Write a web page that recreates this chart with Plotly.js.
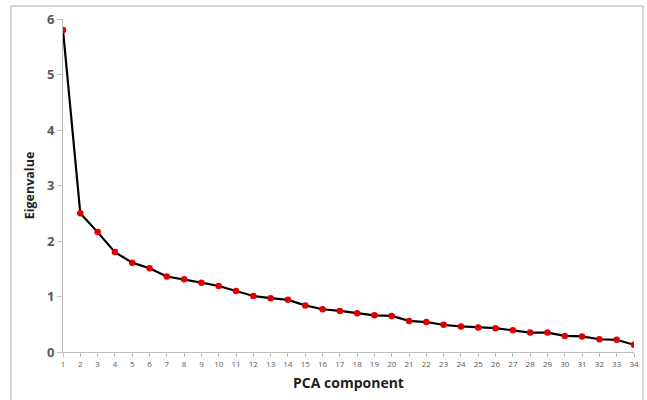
<!DOCTYPE html>
<html>
<head>
<meta charset="utf-8">
<script src="https://cdn.plot.ly/plotly-3.0.1.min.js"></script>
<style>
html,body{margin:0;padding:0;background:#fff;}
#chart{width:647px;height:400px;}
</style>
</head>
<body>
<div id="chart"></div>
<script>
const components = [1,2,3,4,5,6,7,8,9,10,11,12,13,14,15,16,17,18,19,20,21,22,23,24,25,26,27,28,29,30,31,32,33,34];
const eigenvalues = [5.80,2.50,2.16,1.80,1.61,1.51,1.36,1.31,1.25,1.19,1.10,1.01,0.97,0.94,0.84,0.77,0.74,0.70,0.66,0.65,0.56,0.54,0.49,0.46,0.44,0.43,0.39,0.35,0.35,0.29,0.28,0.23,0.22,0.13];
const yTicks = [0,1,2,3,4,5,6];

const trace = {
  x: components,
  y: eigenvalues,
  type: 'scatter',
  mode: 'lines+markers',
  line: {color: '#000000', width: 2.2},
  marker: {color: '#e00000', size: 6.5, line: {width: 0}},
  hoverinfo: 'x+y'
};

const layout = {
  width: 647,
  height: 400,
  margin: {l: 63, r: 13, t: 19, b: 48},
  paper_bgcolor: '#ffffff',
  plot_bgcolor: '#ffffff',
  showlegend: false,
  xaxis: {
    range: [1, 34],
    tickvals: components,
    ticktext: components.map(String),
    tickfont: {family: 'Open Sans, sans-serif', size: 8, color: '#595959'},
    showgrid: false,
    zeroline: false,
    showline: true,
    linecolor: '#bfbfbf',
    linewidth: 1,
    ticks: 'outside',
    ticklen: 4,
    tickcolor: '#bfbfbf',
    title: {text: '<b>PCA component</b>', font: {family: 'Open Sans, sans-serif', size: 14, color: '#222222'}, standoff: 10}
  },
  yaxis: {
    range: [0, 6],
    tickvals: yTicks,
    ticktext: yTicks.map(function(v){ return '<b>' + v + '</b>'; }),
    tickfont: {family: 'Open Sans, sans-serif', size: 13, color: '#595959'},
    showgrid: false,
    zeroline: false,
    showline: true,
    linecolor: '#bfbfbf',
    linewidth: 1,
    ticks: 'outside',
    ticklen: 5,
    tickcolor: '#bfbfbf',
    title: {text: '<b>Eigenvalue</b>', font: {family: 'Open Sans, sans-serif', size: 12.5, color: '#222222'}, standoff: 9}
  },
  shapes: [{
    type: 'rect', xref: 'paper', yref: 'paper',
    x0: -0.091, x1: 1.0158, y0: -0.15, y1: 1.039,
    line: {color: '#c8c8c8', width: 1.5}, fillcolor: 'rgba(0,0,0,0)', layer: 'below'
  }]
};

Plotly.newPlot('chart', [trace], layout, {displayModeBar: false, staticPlot: true});
</script>
</body>
</html>
